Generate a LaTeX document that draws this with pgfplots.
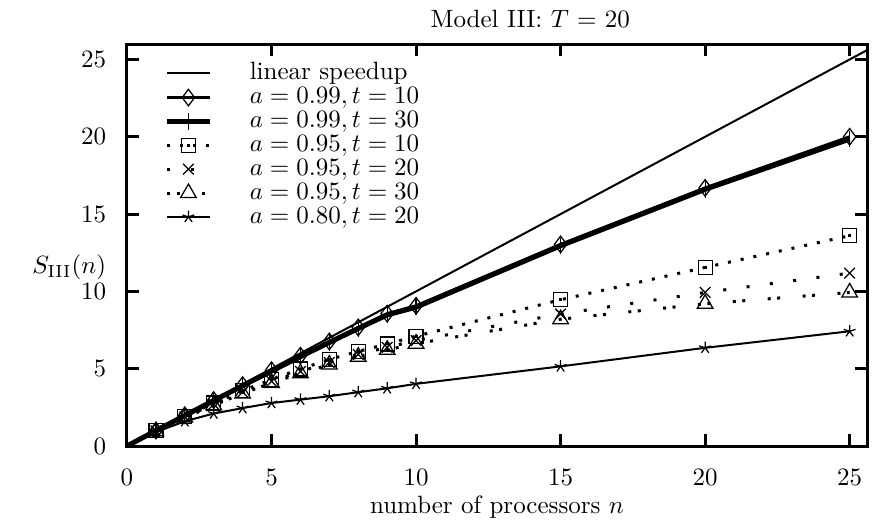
\documentclass[border=0pt]{standalone}
\usepackage{pgfplots}
\pgfplotsset{compat=1.18}
\pgfdeclareplotmark{sqdot}{%
  \pgfpathrectangle{\pgfpoint{-\pgfplotmarksize}{-\pgfplotmarksize}}{\pgfpoint{2\pgfplotmarksize}{2\pgfplotmarksize}}%
  \pgfusepathqstroke
  \pgfpathrectangle{\pgfpoint{-0.6pt}{-0.6pt}}{\pgfpoint{1.2pt}{1.2pt}}%
  \pgfusepathqfill
}
\begin{document}
\begin{tikzpicture}
\useasboundingbox (-50.8pt,-30.8pt) rectangle (298pt,178.4pt);
\begin{axis}[
  name=ax,
  at={(0,0)}, anchor=south west,
  scale only axis,
  width=296pt, height=160.8pt,
  xmin=0, xmax=25.6, ymin=0, ymax=26,
  xtick={0,5,...,25}, ytick={0,5,...,25},
  tick align=inside,
  major tick length=4.8pt,
  tick style={line width=1.2pt, black},
  axis line style={line width=1.2pt},
  xticklabel style={yshift=-5.8pt},
  yticklabel style={xshift=-4.8pt},
  title={Model III: $T$ = 20},
  title style={at={(axis description cs:0.545,1)}, anchor=south, yshift=-3pt},
  xlabel={number of processors $n$},
  xlabel style={yshift=2.6pt},
  ylabel={$S_{\rm III}(n)$},
  ylabel style={rotate=-90, at={(axis description cs:-0.078,0.445)}, anchor=center, inner sep=1pt},
  legend style={draw=none, fill=none, at={(axis description cs:0.04,0.98)}, anchor=north west,
    cells={anchor=west}, row sep=-2.4pt,
    /tikz/every odd column/.append style={column sep=13pt}},
  legend cell align=left,
  legend image post style={mark indices={2}},
  clip=true,
]
% linear speedup
\addplot[black, line width=0.8pt] coordinates {(0,0) (26,26)};
\addlegendentry{linear speedup}
% a=0.99, t=10
\addplot[black, line width=1.2pt, mark=diamond, mark size=3.3pt, mark options={solid, line width=0.5pt, fill=white}, mark indices={2,3,...,14}] coordinates {
(0,0) (1,1.0) (2,1.99) (3,2.97) (4,3.94) (5,4.9) (6,5.84) (7,6.76) (8,7.67) (9,8.56) (10,9.07)
(15,13.04) (20,16.69) (25,20.0)};
\addlegendentry{$a = 0.99, t = 10$}
% a=0.99, t=30
\addplot[black, line width=2pt, mark=|, mark size=3.3pt, mark options={solid, line width=0.5pt}, mark indices={2,3,...,14}] coordinates {
(0,0) (1,0.99) (2,1.97) (3,2.94) (4,3.9) (5,4.85) (6,5.78) (7,6.7) (8,7.6) (9,8.48) (10,8.98)
(15,12.95) (20,16.6) (25,19.85)};
\addlegendentry{$a = 0.99, t = 30$}
% a=0.95, t=10
\addplot[black, line width=1.2pt, dash pattern=on 1.2pt off 4pt, mark=sqdot, mark size=2.8pt, mark options={solid, line width=0.5pt}] coordinates {
(1,1.0) (2,1.92) (3,2.78) (4,3.58) (5,4.3) (6,4.98) (7,5.6) (8,6.12) (9,6.6) (10,7.1)
(15,9.46) (20,11.55) (25,13.6)};
\addlegendentry{$a = 0.95, t = 10$}
% a=0.95, t=20
\addplot[black, line width=1.2pt, dash pattern=on 1.2pt off 8.2pt, mark=x, mark size=3pt, mark options={solid, line width=0.5pt}] coordinates {
(1,0.98) (2,1.88) (3,2.7) (4,3.48) (5,4.18) (6,4.82) (7,5.4) (8,5.92) (9,6.38) (10,6.82)
(15,8.54) (20,9.93) (25,11.18)};
\addlegendentry{$a = 0.95, t = 20$}
% a=0.95, t=30
\addplot[black, line width=1.2pt, dash pattern=on 1.2pt off 2.6pt on 1.2pt off 9pt, mark=triangle, mark size=3.6pt, mark options={solid, line width=0.5pt}] coordinates {
(1,0.95) (2,1.84) (3,2.64) (4,3.4) (5,4.08) (6,4.7) (7,5.27) (8,5.78) (9,6.22) (10,6.62)
(15,8.2) (20,9.2) (25,9.93)};
\addlegendentry{$a = 0.95, t = 30$}
% a=0.80, t=20
\addplot[black, line width=0.8pt, mark=star, mark size=2.5pt, mark options={solid, line width=0.5pt}, mark indices={2,3,...,14}] coordinates {
(0,0) (1,0.9) (2,1.6) (3,2.1) (4,2.45) (5,2.78) (6,3.0) (7,3.22) (8,3.48) (9,3.73) (10,4.02)
(15,5.15) (20,6.35) (25,7.42)};
\addlegendentry{$a = 0.80, t = 20$}
\end{axis}
\end{tikzpicture}
\end{document}
